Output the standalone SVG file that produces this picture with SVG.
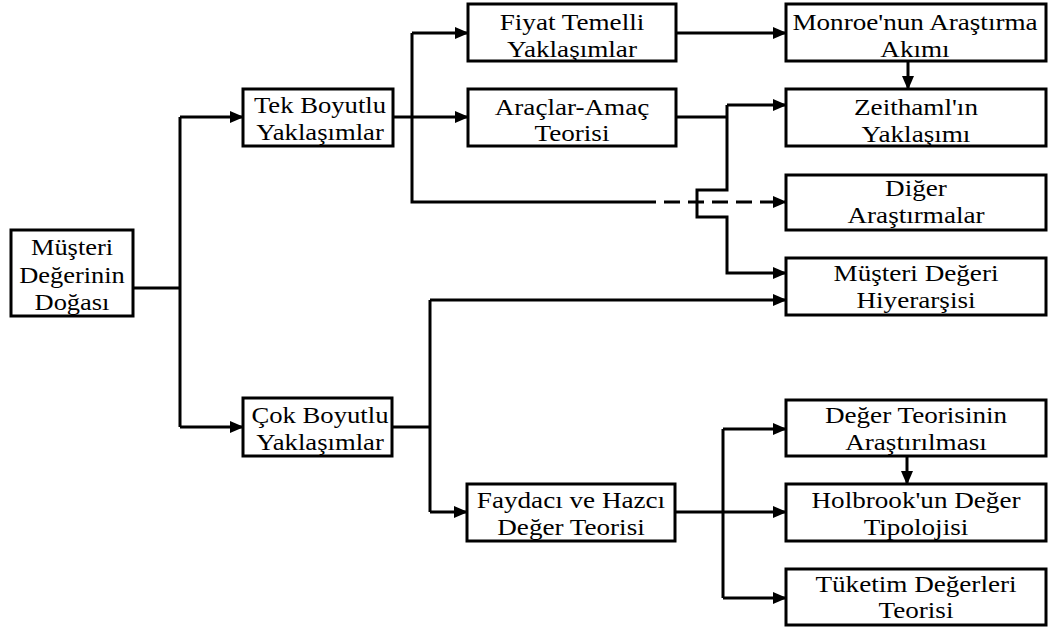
<svg xmlns="http://www.w3.org/2000/svg" width="1051" height="630" viewBox="0 0 1051 630">
  <style>
    .box { fill: #ffffff; stroke: #000000; stroke-width: 3; }
    .lbl { font-family: 'Liberation Serif', 'DejaVu Serif', serif; font-size: 23px; fill: #000000; text-anchor: middle; }
    .ln { fill: none; stroke: #000000; stroke-width: 3; }
    .arr { marker-end: url(#head); }
    .dash { stroke-dasharray: 16 8; }
  </style>
  <defs>
    <marker id="head" markerUnits="userSpaceOnUse" markerWidth="14" markerHeight="12" refX="13" refY="6" orient="auto">
      <path d="M0,0 L14,6 L0,12 Z" fill="#000000"/>
    </marker>
  </defs>
  <rect width="1051" height="630" fill="#ffffff"/>

  <g id="connectors">
    <!-- root to the two approach groups -->
    <path class="ln" d="M133,288 H180"/>
    <path class="ln" d="M180,117 V427"/>
    <path class="ln arr" d="M180,117 H243"/>
    <path class="ln arr" d="M180,427 H243"/>

    <!-- one-dimensional branch -->
    <path class="ln" d="M393,117 H412"/>
    <path class="ln" d="M412,33 V202 H640"/>
    <path class="ln arr" d="M412,33 H468"/>
    <path class="ln arr" d="M412,117 H468"/>
    <path class="ln dash arr" d="M640,202 H786"/>

    <path class="ln arr" d="M676,33 H786"/>
    <path class="ln arr" d="M908,61 V89"/>

    <!-- means-end theory, with a hop over the dashed line -->
    <path class="ln" d="M676,117 H727"/>
    <path class="ln arr" d="M727,105 H786"/>
    <path class="ln arr" d="M727,105 V190 H697 V217 H727 V273 H786"/>

    <!-- multi-dimensional branch -->
    <path class="ln" d="M392,427 H430"/>
    <path class="ln" d="M430,300 V512"/>
    <path class="ln arr" d="M430,300 H786"/>
    <path class="ln arr" d="M430,512 H467"/>

    <path class="ln arr" d="M675,512 H786"/>
    <path class="ln" d="M723,429 V598"/>
    <path class="ln arr" d="M723,429 H786"/>
    <path class="ln arr" d="M723,598 H786"/>
    <path class="ln arr" d="M907,456 V484"/>
  </g>

  <g id="n-root">
    <rect class="box" x="11" y="230" width="122" height="86"/>
    <text class="lbl" transform="translate(72 0) scale(1.15 1)"><tspan x="0" y="255">Müşteri</tspan><tspan x="0" y="283">Değerinin</tspan><tspan x="0" y="310">Doğası</tspan></text>
  </g>

  <g id="n-tek">
    <rect class="box" x="243" y="89" width="150" height="57"/>
    <text class="lbl" transform="translate(320 0) scale(1.16 1)"><tspan x="0" y="113">Tek Boyutlu</tspan><tspan x="0" y="140">Yaklaşımlar</tspan></text>
  </g>

  <g id="n-cok">
    <rect class="box" x="243" y="398" width="149" height="58"/>
    <text class="lbl" transform="translate(320 0) scale(1.16 1)"><tspan x="0" y="423">Çok Boyutlu</tspan><tspan x="0" y="450">Yaklaşımlar</tspan></text>
  </g>

  <g id="n-fiyat">
    <rect class="box" x="468" y="4" width="208" height="57"/>
    <text class="lbl" transform="translate(572 0) scale(1.18 1)"><tspan x="0" y="30">Fiyat Temelli</tspan><tspan x="0" y="57">Yaklaşımlar</tspan></text>
  </g>

  <g id="n-aracamac">
    <rect class="box" x="468" y="89" width="208" height="57"/>
    <text class="lbl" transform="translate(572 0) scale(1.18 1)"><tspan x="0" y="115">Araçlar-Amaç</tspan><tspan x="0" y="141">Teorisi</tspan></text>
  </g>

  <g id="n-faydaci">
    <rect class="box" x="467" y="484" width="208" height="57"/>
    <text class="lbl" transform="translate(571 0) scale(1.18 1)"><tspan x="0" y="508">Faydacı ve Hazcı</tspan><tspan x="0" y="535">Değer Teorisi</tspan></text>
  </g>

  <g id="n-monroe">
    <rect class="box" x="786" y="4" width="260" height="57"/>
    <text class="lbl" transform="translate(915 0) scale(1.18 1)"><tspan x="0" y="30">Monroe'nun Araştırma</tspan><tspan x="0" y="57">Akımı</tspan></text>
  </g>

  <g id="n-zeithaml">
    <rect class="box" x="786" y="89" width="260" height="57"/>
    <text class="lbl" transform="translate(916 0) scale(1.18 1)"><tspan x="0" y="115">Zeithaml'ın</tspan><tspan x="0" y="142">Yaklaşımı</tspan></text>
  </g>

  <g id="n-diger">
    <rect class="box" x="786" y="175" width="260" height="55"/>
    <text class="lbl" transform="translate(916 0) scale(1.18 1)"><tspan x="0" y="196">Diğer</tspan><tspan x="0" y="223">Araştırmalar</tspan></text>
  </g>

  <g id="n-hiyerarsi">
    <rect class="box" x="786" y="258" width="260" height="57"/>
    <text class="lbl" transform="translate(916 0) scale(1.18 1)"><tspan x="0" y="281">Müşteri Değeri</tspan><tspan x="0" y="308">Hiyerarşisi</tspan></text>
  </g>

  <g id="n-degerteori">
    <rect class="box" x="786" y="400" width="260" height="56"/>
    <text class="lbl" transform="translate(916 0) scale(1.18 1)"><tspan x="0" y="423">Değer Teorisinin</tspan><tspan x="0" y="450">Araştırılması</tspan></text>
  </g>

  <g id="n-holbrook">
    <rect class="box" x="786" y="484" width="260" height="57"/>
    <text class="lbl" transform="translate(916 0) scale(1.18 1)"><tspan x="0" y="508">Holbrook'un Değer</tspan><tspan x="0" y="535">Tipolojisi</tspan></text>
  </g>

  <g id="n-tuketim">
    <rect class="box" x="786" y="569" width="260" height="56"/>
    <text class="lbl" transform="translate(916 0) scale(1.18 1)"><tspan x="0" y="592">Tüketim Değerleri</tspan><tspan x="0" y="618">Teorisi</tspan></text>
  </g>
</svg>
